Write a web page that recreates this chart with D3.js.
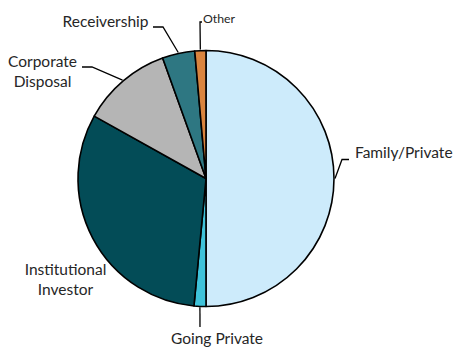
<!DOCTYPE html>
<html>
<head>
<meta charset="utf-8">
<script src="https://cdn.jsdelivr.net/npm/d3@7/dist/d3.min.js"></script>
<style>
  html, body { margin: 0; padding: 0; background: #ffffff; }
  svg { display: block; }
  text { font-family: Lato, "Open Sans", sans-serif; fill: #262626; }
</style>
</head>
<body>
<svg id="chart" width="455" height="347"></svg>
<script>
// Share of deals by vendor type (%), clockwise from 12 o'clock
const categories = ["Family/Private", "Going Private", "Institutional Investor", "Corporate Disposal", "Receivership", "Other"];
const shares = [50.0, 1.5, 31.6, 11.4, 4.1, 1.4];
const labelLines = [["Family/Private"], ["Going Private"], ["Institutional", "Investor"], ["Corporate", "Disposal"], ["Receivership"], ["Other"]];

const colors = ["#cdebfb", "#3fc2d9", "#034c57", "#b5b5b5", "#2e7782", "#d9843e"];

const W = 455, H = 347;
const cx = 206, cy = 178.5, R = 128;

const svg = d3.select("#chart");
const g = svg.append("g").attr("transform", `translate(${cx},${cy})`);

const pie = d3.pie().sort(null).value(d => d.value);
const arc = d3.arc().innerRadius(0).outerRadius(R);

const data = categories.map((c, i) => ({ name: c, value: shares[i], lines: labelLines[i], color: colors[i] }));
const arcs = pie(data);

g.selectAll("path.slice")
  .data(arcs)
  .join("path")
  .attr("class", "slice")
  .attr("d", arc)
  .attr("fill", d => d.data.color)
  .attr("stroke", "#000")
  .attr("stroke-width", 1.6)
  .attr("stroke-linejoin", "round");

// Label layout: elbow offsets (relative to chart centre) and text anchor point
const labelLayout = {
  "Family/Private":        { elbow: [[136, -19], [143, -19]], text: [149, -20.5], size: 15.5, anchor: "start" },
  "Going Private":         { elbow: [[-6, 148.5]], text: [11, 165.5], size: 15.5, anchor: "middle" },
  "Institutional Investor":{ elbow: null, text: [-140.5, 96.5], size: 15.5, anchor: "middle" },
  "Corporate Disposal":    { elbow: [[-114, -111.5], [-124, -111.5]], text: [-163.5, -111.5], size: 15.5, anchor: "middle" },
  "Receivership":          { elbow: [[-43, -151.5], [-53, -151.5]], text: [-100.5, -151.5], size: 15.5, anchor: "middle" },
  "Other":                 { elbow: [[-6, -156.5], [-4, -156.5]], text: [-3, -155.5], size: 12.3, anchor: "start" }
};

const lineR = R + 1;
arcs.forEach(a => {
  const lay = labelLayout[a.data.name];
  const mid = (a.startAngle + a.endAngle) / 2;
  const p0 = [lineR * Math.sin(mid), -lineR * Math.cos(mid)];
  if (lay.elbow) {
    const pts = [p0, ...lay.elbow];
    g.append("path")
      .attr("d", d3.line()(pts))
      .attr("fill", "none")
      .attr("stroke", "#000")
      .attr("stroke-width", 1.3);
  }
  const t = g.append("text")
    .attr("x", lay.text[0])
    .attr("y", lay.text[1])
    .attr("text-anchor", lay.anchor)
    .style("font-size", lay.size + "px");
  a.data.lines.forEach((ln, i) => {
    t.append("tspan")
      .attr("x", lay.text[0])
      .attr("dy", i === 0 ? 0 : 20)
      .text(ln);
  });
});
</script>
</body>
</html>
